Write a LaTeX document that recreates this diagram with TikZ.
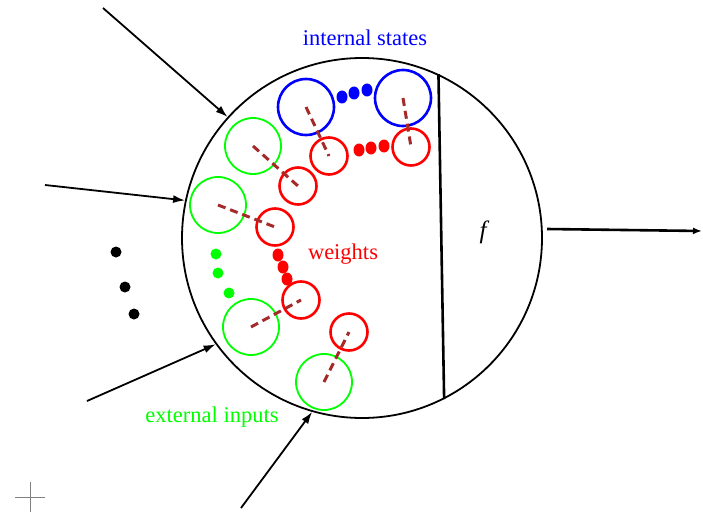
\documentclass[tikz,border=0pt]{standalone}
\usepackage{fontspec}
\setmainfont{Liberation Serif}
\usetikzlibrary{arrows.meta}
\definecolor{wbrown}{RGB}{165,42,42}
\tikzset{
  incirc/.style={draw=green,line width=1.8pt,circle,minimum size=56pt,inner sep=0pt},
  stcirc/.style={draw=blue,line width=2.6pt,circle,minimum size=56pt,inner sep=0pt},
  wcirc/.style={draw=red,line width=2.6pt,circle,minimum size=37pt,inner sep=0pt},
  wline/.style={draw=wbrown,line width=3pt,dash pattern=on 8pt off 5pt},
  inarrow/.style={line width=1.8pt,-{Latex[length=12pt,width=8pt]}},
  lbl/.style={font=\fontsize{22.5}{26}\selectfont},
}
\begin{document}
\begin{tikzpicture}[x=1pt,y=-1pt]
\useasboundingbox (0,0) rectangle (703,516);
% neuron body
\node[circle,draw,line width=1.8pt,minimum size=360pt,inner sep=0pt] (cell) at (362,238) {};
\draw[line width=2.6pt] (cell.65) -- (cell.-63);
\node[font=\fontsize{25}{28}\selectfont\itshape] (fn) at (483,232) {f};
% output
\coordinate (out) at (547,229);
\coordinate (outend) at (702,231);
\draw[line width=2.6pt,-{Latex[length=9pt,width=7pt]}] (out) -- (outend);
% inputs
\coordinate (in1) at (103,8);
\coordinate (in2) at (45,185);
\coordinate (in3) at (87,401);
\coordinate (in4) at (241,508);
\draw[inarrow] (in1) -- (cell.138.7);
\draw[inarrow] (in2) -- (cell.168.2);
\draw[inarrow] (in3) -- (cell.216.5);
\draw[inarrow] (in4) -- (cell.254);
\fill (116,252) circle[radius=5.5];
\fill (125,287) circle[radius=5.5];
\fill (134,314) circle[radius=5.5];
% external inputs
\node[incirc] (g1) at (253,146) {};
\node[incirc] (g2) at (218,205) {};
\node[incirc] (g3) at (251,327) {};
\node[incirc] (g4) at (324,382) {};
\fill[green] (216,254) circle[radius=5.5];
\fill[green] (218,273) circle[radius=5.5];
\fill[green] (229,293) circle[radius=5.5];
% internal states
\node[stcirc] (s1) at (306,107) {};
\node[stcirc] (s2) at (403,98) {};
\fill[blue] (342,97) circle[x radius=5.5,y radius=6.5];
\fill[blue] (354,93) circle[x radius=5.5,y radius=6.5];
\fill[blue] (367,90) circle[x radius=5.5,y radius=6.5];
% weights
\node[wcirc] (w1) at (329,156) {};
\node[wcirc] (w2) at (298,186) {};
\node[wcirc] (w3) at (275,227) {};
\node[wcirc] (w4) at (411,147) {};
\node[wcirc] (w5) at (301,300) {};
\node[wcirc] (w6) at (349,332) {};
\fill[red] (359,150) circle[x radius=5.5,y radius=6.5];
\fill[red] (371,148) circle[x radius=5.5,y radius=6.5];
\fill[red] (384,146) circle[x radius=5.5,y radius=6.5];
\fill[red] (278,255) circle[x radius=5.5,y radius=6.5];
\fill[red] (283,267) circle[x radius=5.5,y radius=6.5];
\fill[red] (287,279) circle[x radius=5.5,y radius=6.5];
\draw[wline] (g1.center) -- (w2.center);
\draw[wline] (g2.center) -- (w3.center);
\draw[wline] (s1.center) -- (w1.center);
\draw[wline] (s2.center) -- (w4.center);
\draw[wline] (g3.center) -- (w5.center);
\draw[wline] (g4.center) -- (w6.center);
% labels
\node[lbl,text=blue] (lstates) at (365,38) {internal states};
\node[lbl,text=red] (lweights) at (343,254) {weights};
\node[lbl,text=green] (linputs) at (212,417) {external inputs};
% marker
\draw[gray,line width=1pt] (15,497) -- (45,497) (30,482) -- (30,512);
\end{tikzpicture}
\end{document}
